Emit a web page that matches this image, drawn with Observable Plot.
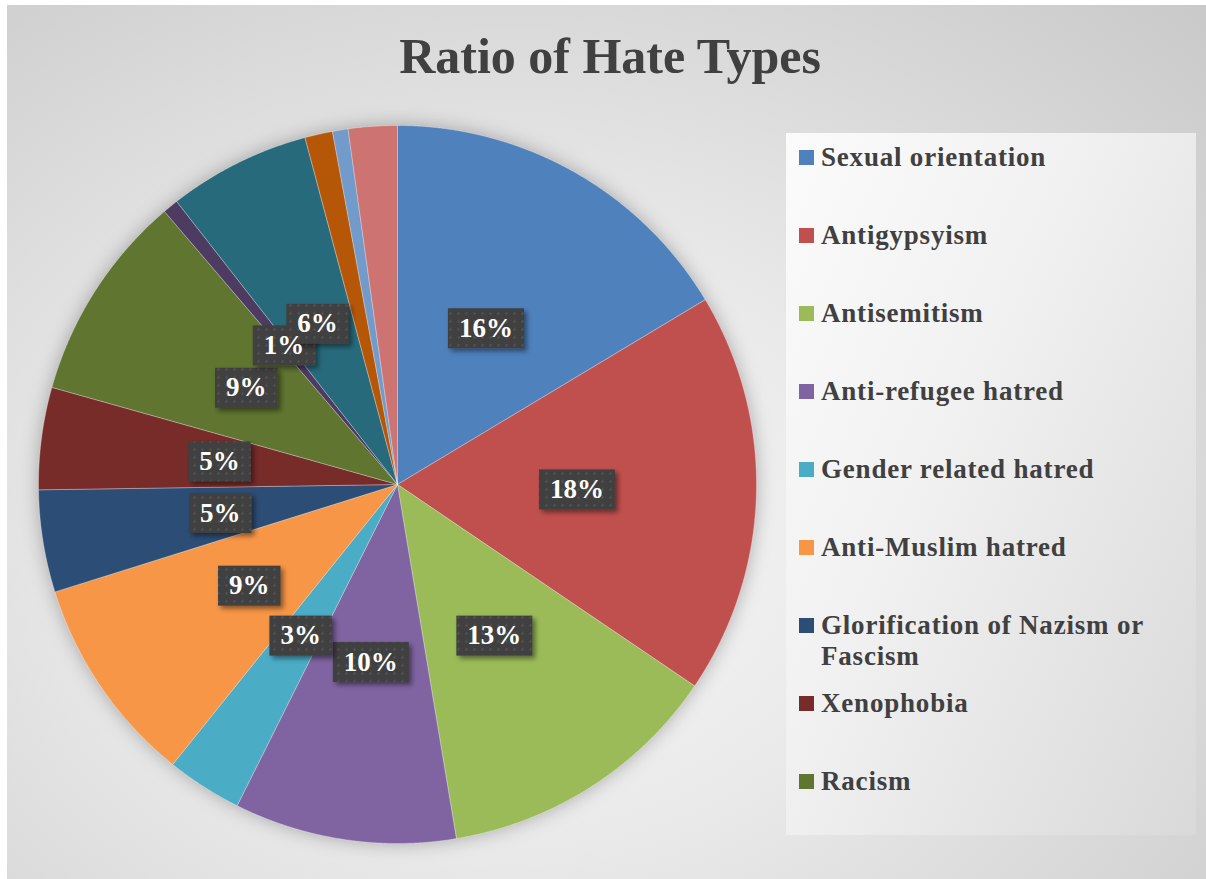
<!DOCTYPE html>
<html><head><meta charset="utf-8">
<script src="https://cdn.jsdelivr.net/npm/d3@7"></script>
<script src="https://cdn.jsdelivr.net/npm/@observablehq/plot@0.6"></script>
<style>
html,body{margin:0;padding:0;background:#fff;width:1206px;height:879px;overflow:hidden;}
#chart{position:absolute;left:7px;top:5px;width:1199px;height:874px;overflow:hidden;
  background:radial-gradient(ellipse farthest-corner at 42% 62%, #f8f8f8 0%, #e9e9e9 40%, #c9c9c9 100%);}
#title{position:absolute;left:0;top:26px;width:1206px;text-align:center;font:bold 50px 'Liberation Serif',serif;line-height:50px;color:#404040;white-space:nowrap;}
#pie{position:absolute;left:31px;top:120px;}
#legend{position:absolute;left:779px;top:128px;width:410px;height:702px;
  background:linear-gradient(115deg,#fbfbfb 0%,#f1f1f1 40%,#d9d9d9 100%);}
.sw{position:absolute;left:13px;width:15px;height:15px;}
.lt{position:absolute;left:35px;width:365px;font:bold 27px 'Liberation Serif',serif;line-height:31px;color:#404040;letter-spacing:0.8px;}
</style></head><body>
<div id="chart">
  <div id="title">Ratio of Hate Types</div>
  <div id="pie"></div>
  <div id="legend"></div>
</div>
<script>
const categories = ["Sexual orientation","Antigypsyism","Antisemitism","Anti-refugee hatred","Gender related hatred","Anti-Muslim hatred","Glorification of Nazism or Fascism","Xenophobia","Racism","Other type 10","Other type 11","Other type 12","Other type 13","Other type 14"];
const values = [16.4, 18.1, 12.9, 10.0, 3.4, 9.4, 4.6, 4.6, 9.4, 0.7, 6.4, 1.25, 0.7, 2.2];
const colors = ["#4F81BD","#C0504D","#9BBB59","#8064A2","#4BACC6","#F79646","#2C4D75","#772C2A","#5F7530","#4D3B62","#276A7C","#B65708","#729ACA","#CD7371"];
const dataLabels = ["16%","18%","13%","10%","3%","9%","5%","5%","9%","1%","6%","","",""];
const legendCategories = categories.slice(0, 9);

const R = 359;
const data = categories.map((c, i) => ({category: c, value: values[i], label: dataLabels[i]}));
const arcs = d3.pie().sort(null).value(d => d.value)(data);

// slice polygons (unit circle), built from pie angles
const slicePts = [];
for (const a of arcs) {
  const c = a.data.category;
  slicePts.push({category: c, x: 0, y: 0});
  const n = Math.max(2, Math.ceil((a.endAngle - a.startAngle) / 0.004));
  for (let k = 0; k <= n; k++) {
    const t = a.startAngle + (a.endAngle - a.startAngle) * k / n;
    slicePts.push({category: c, x: Math.sin(t), y: Math.cos(t)});
  }
  slicePts.push({category: c, x: 0, y: 0});
}
const labelRows = arcs.filter(a => a.data.label).map(a => {
  const m = (a.startAngle + a.endAngle) / 2;
  return {label: a.data.label, x: 0.5 * Math.sin(m), y: 0.5 * Math.cos(m)};
});

const ctx = document.createElement("canvas").getContext("2d");
ctx.font = "bold 27px 'Liberation Serif'";
const ns = "http://www.w3.org/2000/svg";

function withBoxes(index, scales, vals, dims, context, next) {
  const g = next(index, scales, vals, dims, context);
  const defs = document.createElementNS(ns, "defs");
  defs.innerHTML = `<pattern id="dots" width="8" height="8" patternUnits="userSpaceOnUse"><rect width="8" height="8" fill="#3f3f3f"/><rect x="3" y="3" width="2" height="2" fill="#575757"/></pattern>
  <filter id="boxShadow" x="-30%" y="-30%" width="170%" height="180%"><feDropShadow dx="3" dy="3" stdDeviation="2.5" flood-color="#000" flood-opacity="0.45"/></filter>`;
  const bg = document.createElementNS(ns, "g");
  for (const i of index) {
    const w = ctx.measureText(labelRows[i].label).width + 22;
    const h = 40;
    const r = document.createElementNS(ns, "rect");
    r.setAttribute("x", vals.x[i] - w / 2);
    r.setAttribute("y", vals.y[i] - h / 2);
    r.setAttribute("width", w);
    r.setAttribute("height", h);
    r.setAttribute("fill", "url(#dots)");
    r.setAttribute("filter", "url(#boxShadow)");
    bg.appendChild(r);
  }
  g.insertBefore(bg, g.firstChild);
  g.insertBefore(defs, g.firstChild);
  return g;
}

const plot = Plot.plot({
  width: 2 * R, height: 2 * R,
  margin: 0,
  x: {domain: [-1, 1], axis: null},
  y: {domain: [-1, 1], axis: null},
  color: {type: "ordinal", domain: categories, range: colors},
  style: {background: "transparent", overflow: "visible"},
  marks: [
    Plot.line(slicePts, {
      x: "x", y: "y", z: "category", fill: "category",
      stroke: "white", strokeWidth: 0.6, strokeOpacity: 0.5, curve: "linear",
      render: (i, s, v, d, c, next) => { const g = next(i, s, v, d, c); g.style.filter = "drop-shadow(0px 0px 9px rgba(0,0,0,0.28))"; return g; }
    }),
    Plot.text(labelRows, {
      x: "x", y: "y", text: "label",
      fill: "white", fontSize: 27, fontWeight: "bold", fontFamily: "Liberation Serif",
      render: withBoxes
    })
  ]
});
document.getElementById("pie").appendChild(plot);

const legend = document.getElementById("legend");
legendCategories.forEach((c, i) => {
  const sw = document.createElement("div");
  sw.className = "sw";
  sw.style.top = (17 + 78 * i) + "px";
  sw.style.background = colors[i];
  legend.appendChild(sw);
  const t = document.createElement("div");
  t.className = "lt";
  t.style.top = (9 + 78 * i) + "px";
  t.textContent = c;
  legend.appendChild(t);
});
</script>
</body></html>
